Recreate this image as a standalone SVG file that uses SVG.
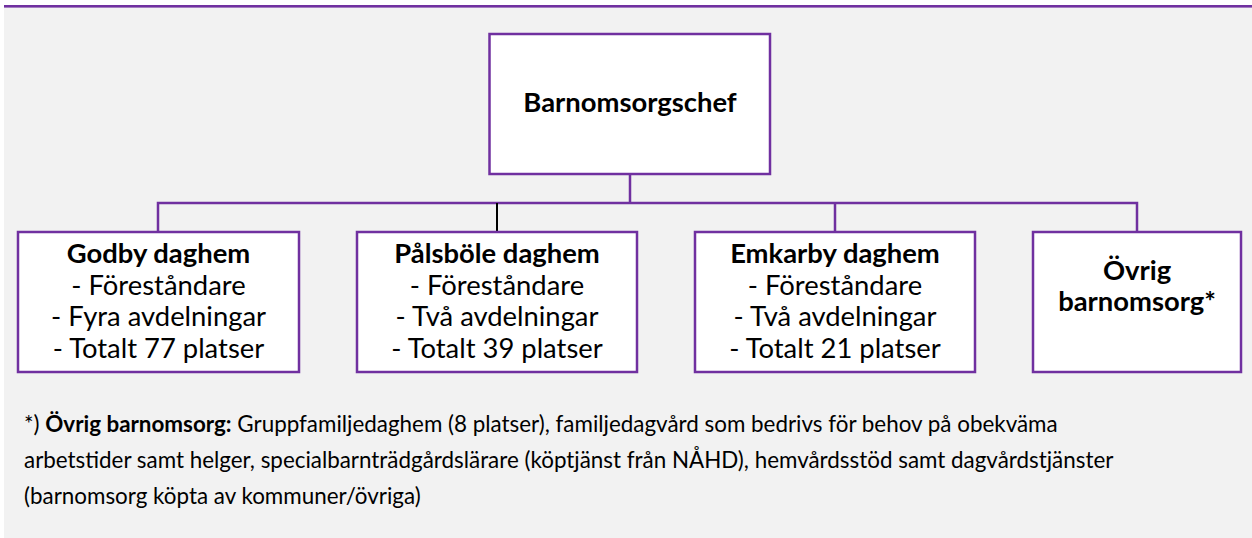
<svg xmlns="http://www.w3.org/2000/svg" width="1252" height="538" viewBox="0 0 1252 538">
<style>
.bg{fill:#f2f2f2}
.box{fill:#ffffff;stroke:#7030a0;stroke-width:2.5}
.c{fill:none;stroke:#7030a0;stroke-width:2.5}
.cb{fill:none;stroke:#000000;stroke-width:2}
text{font-family:Lato,"Liberation Sans",sans-serif;fill:#000;text-anchor:middle}
.t{font-size:27.4px}
.b{font-weight:bold}
.f{font-size:22.4px;text-anchor:start}
</style>
<rect class="bg" x="4" y="6" width="1248" height="532"/>
<rect x="4" y="5" width="1248" height="2.6" fill="#7030a0"/>
<g id="connectors">
<path class="c" d="M630 174V203M158 232V203H1137V232M835 203V232"/>
<path class="cb" d="M497 203V232"/>
</g>
<g id="barnomsorgschef">
<rect class="box" x="489.5" y="34" width="280.5" height="140"/>
<text class="t b" x="630" y="112">Barnomsorgschef</text>
</g>
<g id="godby">
<rect class="box" x="18" y="232" width="281" height="140"/>
<text class="t" x="158.5" y="263"><tspan class="b">Godby daghem</tspan><tspan x="158.5" dy="31.6">- Föreståndare</tspan><tspan x="158.5" dy="31.6">- Fyra avdelningar</tspan><tspan x="158.5" dy="31.6">- Totalt 77 platser</tspan></text>
</g>
<g id="palsbole">
<rect class="box" x="357" y="232" width="280" height="140"/>
<text class="t" x="497" y="263"><tspan class="b">Pålsböle daghem</tspan><tspan x="497" dy="31.6">- Föreståndare</tspan><tspan x="497" dy="31.6">- Två avdelningar</tspan><tspan x="497" dy="31.6">- Totalt 39 platser</tspan></text>
</g>
<g id="emkarby">
<rect class="box" x="695" y="232" width="280" height="140"/>
<text class="t" x="835" y="263"><tspan class="b">Emkarby daghem</tspan><tspan x="835" dy="31.6">- Föreståndare</tspan><tspan x="835" dy="31.6">- Två avdelningar</tspan><tspan x="835" dy="31.6">- Totalt 21 platser</tspan></text>
</g>
<g id="ovrig">
<rect class="box" x="1033" y="232" width="208" height="140"/>
<text class="t b" x="1137" y="280">Övrig<tspan x="1137" dy="31">barnomsorg*</tspan></text>
</g>
<g id="footnote">
<text class="f" x="24" y="432">*) <tspan class="b">Övrig barnomsorg:</tspan> Gruppfamiljedaghem (8 platser), familjedagvård som bedrivs för behov på obekväma</text>
<text class="f" x="24" y="468">arbetstider samt helger, specialbarnträdgårdslärare (köptjänst från NÅHD), hemvårdsstöd samt dagvårdstjänster</text>
<text class="f" x="24" y="504">(barnomsorg köpta av kommuner/övriga)</text>
</g>
</svg>
